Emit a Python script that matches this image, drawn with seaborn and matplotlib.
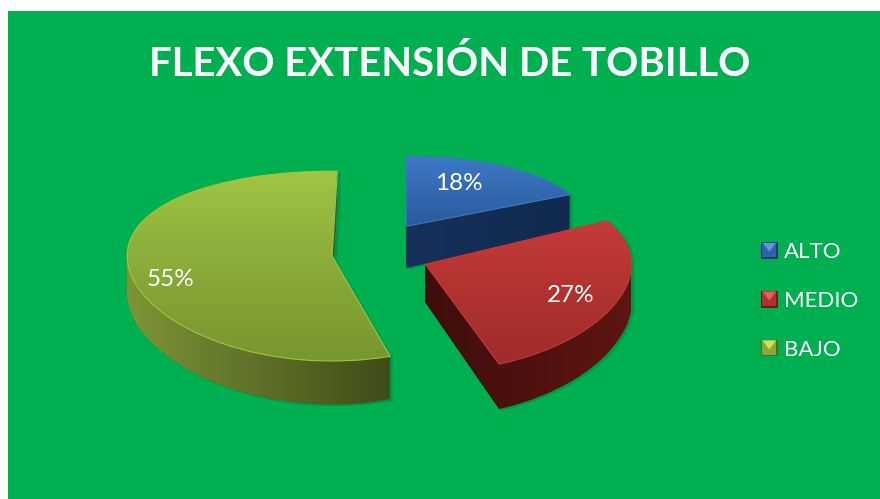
import numpy as np
import matplotlib
matplotlib.use("Agg")
import matplotlib.pyplot as plt
from matplotlib.patches import Rectangle, Polygon, Patch, PathPatch
from matplotlib.path import Path
from matplotlib.legend_handler import HandlerBase
import seaborn as sns

categories = ["ALTO", "MEDIO", "BAJO"]
values = [18, 27, 55]
pct_labels = ["18%", "27%", "55%"]
title = "FLEXO EXTENSIÓN DE TOBILLO"
explode = [0.37, 0.31, 0.16]
radii = [0.87, 0.99, 0.985]
lifts = [-0.035, -0.02, -0.02]
depths = [0.45, 0.38, 0.37]
start_angles = [90, 93, 88.5]

top_colors = [("#3d79c6", "#2a5a9c"), ("#c53a38", "#9e2c2a"), ("#a0c544", "#77962f")]
side_colors = [("#16305a", "#10294e"), ("#3d0e0c", "#5e1412"), ("#7c9436", "#3e4c18")]
legend_colors = ["#2f62a8", "#b03230", "#8aa83a"]
legend_light = ["#5a9be0", "#e0605c", "#c8e060"]
legend_dark = ["#1c3d6e", "#6e1c1a", "#55661f"]
BG = "#00AF50"

W, H = 880, 499
sns.set_theme(style="white")
plt.rcParams["font.family"] = ["Lato", "DejaVu Sans"]

fig = plt.figure(figsize=(W / 100, H / 100), dpi=100, facecolor="white")
fig.add_artist(Rectangle((8 / W, 0), 1 - 8 / W, 1 - 11 / H, transform=fig.transFigure,
                         facecolor=BG, edgecolor="none", zorder=-5))

AX_TOP = 110
ax = fig.add_axes([0, 0, 1, (H - AX_TOP) / H], zorder=1)
ax.patch.set_visible(False)

CX, CY, RX = 365, 252, 208
A, B = 95.5, 10.5


def forward(y):
    y = np.asarray(y, dtype=float)
    return A * y - B * y ** 2


def inverse(p):
    p = np.asarray(p, dtype=float)
    return (A - np.sqrt(np.maximum(A ** 2 - 4 * B * p, 0))) / (2 * B)


def wedge_path(i, depth):
    wedges, _ = ax.pie(values, explode=explode, startangle=start_angles[i], counterclock=False,
                       center=(0, lifts[i] - depth), radius=radii[i])
    path = wedges[i].get_path().transformed(wedges[i].get_patch_transform())
    for w in wedges:
        w.remove()
    return path


def gradient(path, colors, vertical, z):
    ext = path.get_extents()
    cmap = sns.blend_palette(list(colors), n_colors=64, as_cmap=True)
    ramp = np.linspace(0, 1, 64)
    if vertical:
        ys = np.linspace(ext.y0, ext.y1, 65)
        xs = np.array([ext.x0, ext.x1])
        c = ramp[::-1][:, None]
    else:
        xs = np.linspace(ext.x0, ext.x1, 65)
        ys = np.array([ext.y0, ext.y1])
        c = ramp[None, :]
    m = ax.pcolormesh(xs, ys, c, cmap=cmap, vmin=0, vmax=1, shading="flat", zorder=z)
    m.set_clip_path(path, ax.transData)
    return m


for i in range(len(values)):
    z = 2 + i * 2
    layer_paths = [wedge_path(i, d) for d in np.arange(0, depths[i], 0.01)]
    side = Path.make_compound_path(*layer_paths)
    # soft cast shadow
    for dx, a in ((0.018, 0.10), (0.010, 0.16)):
        sh = Path(side.vertices + np.array([dx, -0.012]), side.codes)
        ax.add_patch(PathPatch(sh, facecolor="#00562a", edgecolor="none", alpha=a, zorder=1))
    gradient(side, side_colors[i], False, z)
    gradient(layer_paths[0], top_colors[i], True, z + 1)
    ax.add_patch(PathPatch(layer_paths[0], facecolor="none", edgecolor=top_colors[i][0],
                           lw=0.8, zorder=z + 1.5))

ax.set_aspect("auto")
ax.set_frame_on(False)
ax.set_xlim(-CX / RX, (W - CX) / RX)
ax.set_yscale("function", functions=(forward, inverse))
ax.set_ylim(float(inverse(CY - H)), float(inverse(CY - AX_TOP)))
ax.set_xticks([])
ax.set_yticks([])
ax.minorticks_off()

fig.text(450 / W, 1 - 63.5 / H, title, color="white", fontsize=28.8, fontweight="bold",
         ha="center", va="center")
label_xy = [(459, 184), (571, 296), (171, 280)]
for txt, (x, y) in zip(pct_labels, label_xy):
    fig.text(x / W, 1 - y / H, txt, color="white", fontsize=17.5, ha="center", va="center")


class BevelHandler(HandlerBase):
    def create_artists(self, legend, orig, xd, yd, width, height, fontsize, trans):
        i = categories.index(orig.get_label())
        s = 12.0
        x0, y0 = -xd, -yd + (height - s) / 2
        base = Rectangle((x0, y0), s, s, facecolor=legend_dark[i], edgecolor="none", transform=trans)
        inner = Rectangle((x0 + 0.9, y0 + 1.4), s - 1.8, s - 1.8, facecolor=legend_colors[i],
                          edgecolor="none", transform=trans)
        tri = Polygon([(x0 + 1.2, y0 + s - 0.6), (x0 + s - 1.2, y0 + s - 0.6), (x0 + s / 2, y0 + s * 0.42)],
                      facecolor=legend_light[i], edgecolor="none", transform=trans)
        return [base, inner, tri]


handles = [Patch(label=c) for c in categories]
leg = ax.legend(handles=handles, labels=categories, loc="center left",
                bbox_to_anchor=(761 / W, 1 - 301 / H), bbox_transform=fig.transFigure,
                frameon=False, fontsize=16, labelcolor="white", labelspacing=1.3,
                handlelength=0.75, handletextpad=0.3, borderpad=0, borderaxespad=0,
                handler_map={Patch: BevelHandler()})

fig.savefig("out.png", dpi=100, facecolor="white")
